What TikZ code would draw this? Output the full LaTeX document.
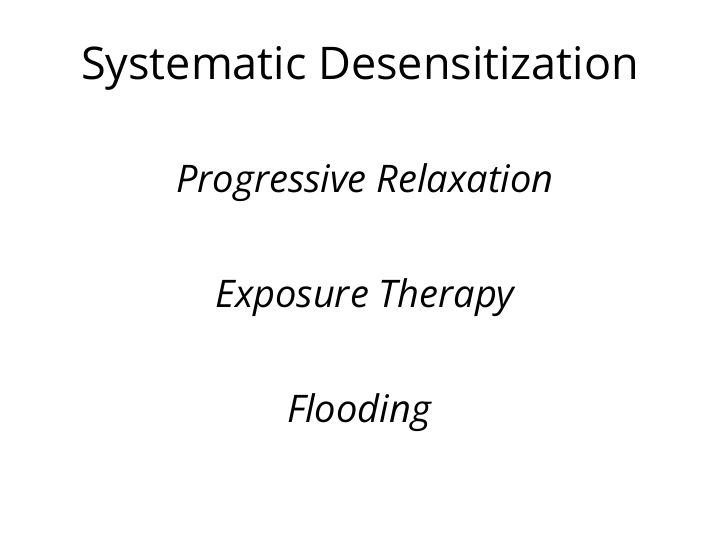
\documentclass[tikz,border=0pt]{standalone}
\usepackage{fontspec}
\setmainfont{Open Sans}
\begin{document}
\begin{tikzpicture}[x=1pt,y=1pt,
  ttl/.style={font=\fontsize{45}{50}\selectfont},
  itm/.style={font=\fontsize{38}{42}\selectfont\itshape}]
\useasboundingbox[fill=white] (0,0) rectangle (720,-540);
\node[ttl] (t) at (360,-68) {Systematic Desensitization};
\node[itm] (a) at (365,-183) {Progressive Relaxation};
\node[itm] (b) at (365,-298) {Exposure Therapy};
\node[itm] (c) at (359,-413) {Flooding};
\end{tikzpicture}
\end{document}
